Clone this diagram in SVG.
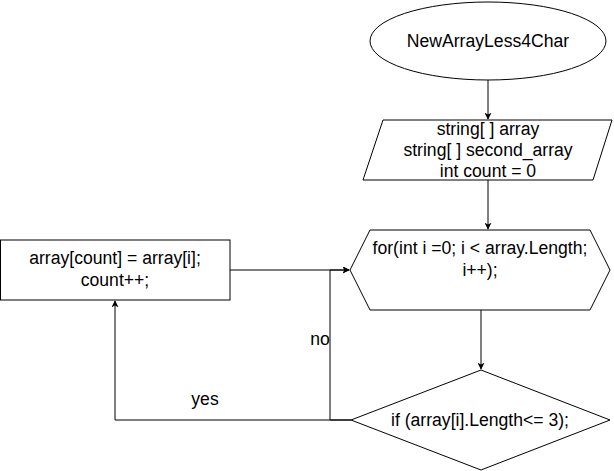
<svg xmlns="http://www.w3.org/2000/svg" width="614" height="471" viewBox="0 0 614 471">
<defs>
<marker id="arr" viewBox="0 0 10 10" refX="9" refY="5" markerWidth="7" markerHeight="7" markerUnits="userSpaceOnUse" orient="auto">
<path d="M0,0 L10,5 L0,10 L2.5,5 Z" fill="#000"/>
</marker>
<style>
.s{fill:#fff;stroke:#000;stroke-width:1}
.t{font-family:"Liberation Sans",Arial,sans-serif;font-size:17.6px;fill:#000;text-anchor:middle;dominant-baseline:central}
.c{fill:none;stroke:#000;stroke-width:1}
</style>
</defs>
<rect width="614" height="471" fill="#fff"/>
<g id="connectors">
<path class="c" d="M488,80 L488,119" marker-end="url(#arr)"/>
<path class="c" d="M488,180 L488,229" marker-end="url(#arr)"/>
<path class="c" d="M481,310 L481,369" marker-end="url(#arr)"/>
<path class="c" d="M230,270 L349,270" marker-end="url(#arr)"/>
<path class="c" d="M351,420 L330,420 L330,270 L349,270" marker-end="url(#arr)"/>
<path class="c" d="M351,420 L115,420 L115,301" marker-end="url(#arr)"/>
<text class="t" x="320" y="339">no</text>
<text class="t" x="205" y="399">yes</text>
</g>
<g id="start">
<ellipse class="s" cx="488" cy="41" rx="118" ry="39"/>
<text class="t" x="488" y="41">NewArrayLess4Char</text>
</g>
<g id="input">
<polygon class="s" points="383,120 612,120 593,180 363,180"/>
<text class="t" x="488" y="129">string[ ] array</text>
<text class="t" x="488" y="150">string[ ] second_array</text>
<text class="t" x="488" y="171">int count = 0</text>
</g>
<g id="loop">
<polygon class="s" points="370,230 590,230 610,270 590,310 370,310 350,270"/>
<text class="t" x="480" y="248">for(int i =0; i &lt; array.Length;</text>
<text class="t" x="480" y="270">i++);</text>
</g>
<g id="cond">
<polygon class="s" points="481,370 610,420 481,470 351,420"/>
<text class="t" x="480" y="420">if (array[i].Length&lt;= 3);</text>
</g>
<g id="assign">
<rect class="s" x="0.5" y="240" width="229.5" height="60"/>
<text class="t" x="115" y="258">array[count] = array[i];</text>
<text class="t" x="115" y="280">count++;</text>
</g>
</svg>
